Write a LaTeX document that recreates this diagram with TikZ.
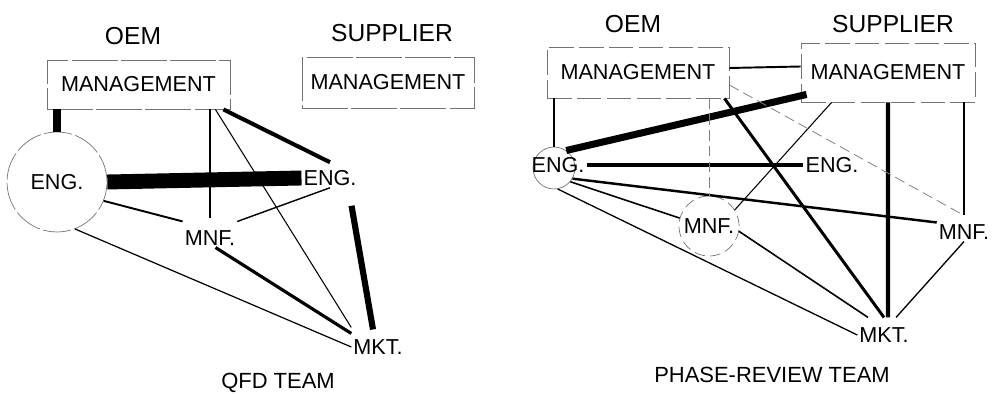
\documentclass[tikz,border=0pt]{standalone}
\usepackage{fontspec}
\setmainfont{Liberation Sans}
\begin{document}
\begin{tikzpicture}[x=0.02cm, y=-0.02cm,
    every node/.style={font=\fontsize{12.3}{14}\selectfont, inner sep=1pt},
    head/.style={font=\fontsize{14}{16}\selectfont},
    team/.style={font=\fontsize{12.5}{15}\selectfont},
    mgmt/.style={draw=black!55, line width=0.5pt, dash pattern=on 26pt off 2pt},
    rmgmt/.style={draw=black!55, line width=0.5pt, dash pattern=on 14pt off 3pt},
    ring/.style={circle, draw=black!55, line width=0.4pt, inner sep=0pt},
    link/.style={line width=#1},
    faint/.style={draw=black!50, line width=0.45pt, dash pattern=on 6pt off 3pt}]
    \useasboundingbox (0,0) rectangle (997,394);

    % QFD team
    \node[head] (loem) at (133,36) {OEM};
    \node[head] (lsup) at (392,33) {SUPPLIER};
    \node[mgmt, minimum width=3.66cm, minimum height=0.98cm] (lomgmt) at (138.5,84.5) {MANAGEMENT};
    \node[mgmt, minimum width=3.44cm, minimum height=1.02cm] (lsmgmt) at (388,82.5) {MANAGEMENT};
    \node[ring, dash pattern=on 16pt off 2pt, minimum size=2cm] (leng) at (57,182) {ENG.};
    \node (leng2) at (330,178) {ENG.};
    \node (lmnf) at (210,238) {MNF.};
    \node (lmkt) at (378,347) {MKT.};
    \node[team] (lqfd) at (278,383) {QFD TEAM};

    \draw[link=4.5pt] (lomgmt.south -| leng) -- (leng.north);
    \draw[link=8.5pt] (leng.east) -- (leng2.west);
    \draw[link=0.6pt] (lomgmt.south -| lmnf) -- ([yshift=0.2cm]lmnf.north);
    \draw[link=0.6pt] ([xshift=-0.3cm]lomgmt.south east) -- ([yshift=0.2cm]lmkt.north west);
    \draw[link=2.3pt] ([xshift=-0.14cm]lomgmt.south east) -- ([yshift=0.12cm]leng2.north);
    \draw[link=1.1pt] (leng.-22) -- ([yshift=0.14cm]lmnf.north west);
    \draw[link=0.8pt] (leng2.south) -- ([yshift=0.14cm]lmnf.north east);
    \draw[link=0.7pt] (leng.-69) -- (lmkt.west);
    \draw[link=1.8pt] (lmnf.-60) -- ([yshift=0.08cm]lmkt.north west);
    \draw[link=3.5pt] ([xshift=-0.14cm,yshift=-0.36cm]leng2.south east) -- ([xshift=-0.1cm,yshift=0.16cm]lmkt.north);

    % phase-review team
    \node[head] (roem) at (633,24) {OEM};
    \node[head] (rsup) at (893,24) {SUPPLIER};
    \node[rmgmt, minimum width=3.64cm, minimum height=1.02cm] (romgmt) at (638,72.5) {MANAGEMENT};
    \node[rmgmt, minimum width=3.48cm, minimum height=1.18cm] (rsmgmt) at (888,72.5) {MANAGEMENT};
    \node[ring, minimum size=0.84cm] (reng) at (554,168) {};
    \node (rengtxt) at (558,165) {ENG.};
    \node (reng2) at (832,165) {ENG.};
    \node[ring, dash pattern=on 6pt off 3pt, minimum size=1.2cm] (rmnf) at (709,226) {MNF.};
    \node (rmnf2) at (964,232) {MNF.};
    \node (rmkt) at (884,335) {MKT.};
    \node[team] (rphase) at (772,375) {PHASE-REVIEW TEAM};

    \draw[link=1.1pt] ([yshift=0.09cm]romgmt.east) -- ([yshift=0.12cm]rsmgmt.west);
    \draw[link=1.1pt] (romgmt.south -| reng) -- (reng.north);
    \draw[link=4pt] (reng.55) -- ([xshift=0.12cm,yshift=0.16cm]rsmgmt.south west);
    \draw[link=2.3pt] (rengtxt.east) -- (reng2.west);
    \draw[link=1.4pt] (reng.-30) -- (rmnf2.north west);
    \draw[link=0.9pt] (reng.-40) -- (rmnf.165);
    \draw[link=0.75pt] (reng.-80) -- (rmkt.west);
    \draw[link=0.9pt] (rmnf.-10) -- ([xshift=-0.32cm,yshift=0.16cm]rmkt.north);
    \draw[link=1.7pt] ([xshift=-0.1cm]romgmt.south east) -- ([yshift=0.16cm]rmkt.north);
    \draw[link=2.3pt] (rsmgmt.south) -- ([xshift=0.08cm,yshift=0.16cm]rmkt.north);
    \draw[link=0.9pt] (rsmgmt.south -| rmnf2.north) -- ([yshift=0.14cm]rmnf2.north);
    \draw[link=0.6pt] ([xshift=0.62cm]rsmgmt.south west) -- (rmnf.32);
    \draw[faint] (romgmt.south -| rmnf) -- (rmnf.north);
    \draw[faint] ([yshift=-0.25cm]romgmt.east) -- ([yshift=0.14cm]rmnf2.north);
    \draw[link=0.75pt] (rmnf2.south) -- ([xshift=0.24cm,yshift=0.16cm]rmkt.north);
\end{tikzpicture}
\end{document}
